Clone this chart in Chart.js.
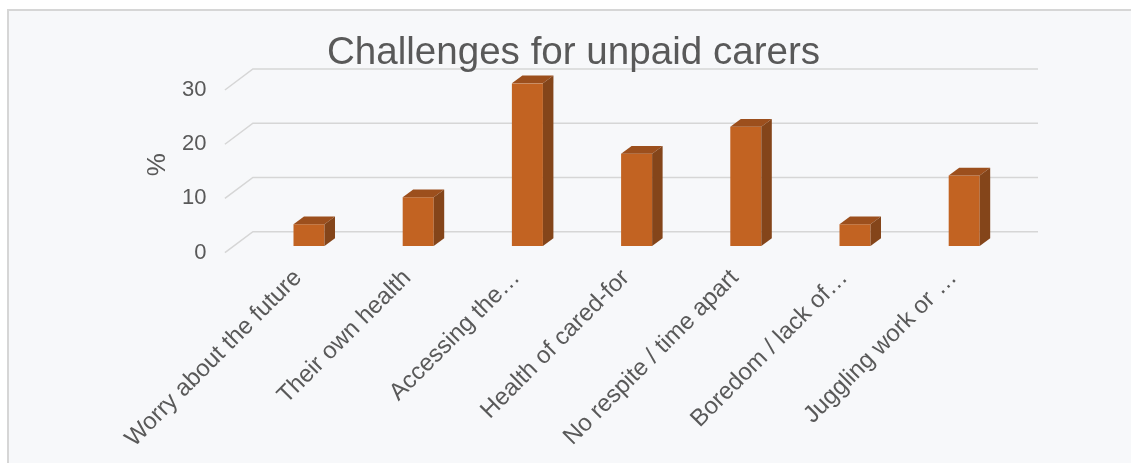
<!DOCTYPE html>
<html>
<head>
<meta charset="utf-8">
<title>Challenges for unpaid carers</title>
<script src="https://cdn.jsdelivr.net/npm/chart.js@4.4.1/dist/chart.umd.min.js"></script>
<style>
  html, body { margin: 0; padding: 0; background: #ffffff; }
  #wrap { width: 1131px; height: 463px; }
  canvas { display: block; }
</style>
</head>
<body>
<div id="wrap"><canvas id="chart" width="1131" height="463"></canvas></div>
<script>
// Survey data: share of unpaid carers naming each challenge (%)
const categories = [
  'Worry about the future',
  'Their own health',
  'Accessing the…',
  'Health of cared-for',
  'No respite / time apart',
  'Boredom / lack of…',
  'Juggling work or …'
];
const percentages = [4, 9, 30, 17, 22, 4, 13];
const yTickValues = [0, 10, 20, 30];
const chartTitle = 'Challenges for unpaid carers';
const yAxisTitle = '%';

const FONT = "'Liberation Sans', Arial, sans-serif";
const TEXT = '#595959';
const FRONT = '#c26322';
const TOP = '#9c4f1d';
const SIDE = '#84451a';
const GRID = '#d6d6d6';

// Oblique depth of the bars
const BAR_DX = 10.5, BAR_DY = 7.7;

// Panel background plus the back-wall / floor gridlines (drawn first, under everything)
const panelAndWall = {
  id: 'panelAndWall',
  beforeDraw(chart) {
    const { ctx, chartArea: a, scales: { y } } = chart;
    ctx.save();
    ctx.fillStyle = '#ffffff';
    ctx.fillRect(0, 0, chart.width, chart.height);
    ctx.fillStyle = '#f7f8fa';
    ctx.fillRect(8, 10, chart.width - 8, chart.height - 10);
    ctx.strokeStyle = '#d6d6d6';
    ctx.lineWidth = 2;
    ctx.beginPath();
    ctx.moveTo(8, chart.height);
    ctx.lineTo(8, 10);
    ctx.lineTo(chart.width, 10);
    ctx.stroke();

    ctx.strokeStyle = GRID;
    ctx.lineWidth = 1.5;
    yTickValues.forEach(v => {
      const p = y.getPixelForValue(v);
      ctx.beginPath();
      ctx.moveTo(a.left - 29.5, p + 6.7);
      ctx.lineTo(a.left - 1.5, p - 14.3);
      ctx.lineTo(a.right + 19.2, p - 14.3);
      ctx.stroke();
    });
    ctx.restore();
  }
};

// Top and side faces that give each bar its block look
const barFaces = {
  id: 'barFaces',
  afterDatasetsDraw(chart) {
    const ctx = chart.ctx;
    ctx.save();
    chart.getDatasetMeta(0).data.forEach(bar => {
      const { x, y, base, width } = bar.getProps(['x', 'y', 'base', 'width'], true);
      const l = x - width / 2, r = x + width / 2;
      ctx.fillStyle = TOP;
      ctx.beginPath();
      ctx.moveTo(l, y);
      ctx.lineTo(l + BAR_DX, y - BAR_DY);
      ctx.lineTo(r + BAR_DX, y - BAR_DY);
      ctx.lineTo(r, y);
      ctx.closePath();
      ctx.fill();
      ctx.fillStyle = SIDE;
      ctx.beginPath();
      ctx.moveTo(r, y);
      ctx.lineTo(r + BAR_DX, y - BAR_DY);
      ctx.lineTo(r + BAR_DX, base - BAR_DY);
      ctx.lineTo(r, base);
      ctx.closePath();
      ctx.fill();
    });
    ctx.restore();
  }
};

new Chart(document.getElementById('chart'), {
  type: 'bar',
  data: {
    labels: categories,
    datasets: [{
      label: yAxisTitle,
      data: percentages,
      backgroundColor: FRONT,
      borderWidth: 0,
      barPercentage: 0.284,
      categoryPercentage: 1
    }]
  },
  options: {
    responsive: false,
    animation: false,
    devicePixelRatio: 1,
    layout: { padding: { left: 128.2, right: 112.2, top: 0, bottom: 0 } },
    plugins: {
      legend: { display: false },
      tooltip: { enabled: false },
      title: {
        display: true,
        text: chartTitle,
        color: TEXT,
        font: { family: FONT, size: 38.6, weight: 'normal', lineHeight: 1.2 },
        padding: { top: 30.6, bottom: 6.4 }
      }
    },
    scales: {
      x: {
        grid: { display: false, drawTicks: false },
        border: { display: false },
        ticks: {
          color: TEXT,
          font: { family: FONT, size: 24 },
          minRotation: 45,
          maxRotation: 45,
          autoSkip: false,
          padding: 18,
          labelOffset: -11
        },
        afterFit(scale) { scale.height = 217; }
      },
      y: {
        min: 0,
        max: 30,
        afterBuildTicks(scale) { scale.ticks = yTickValues.map(v => ({ value: v })); },
        grid: { display: false, drawTicks: false },
        border: { display: false },
        ticks: {
          color: TEXT,
          font: { family: FONT, size: 22 },
          padding: 48,
          labelOffset: 6.5
        },
        title: {
          display: true,
          text: yAxisTitle,
          color: TEXT,
          font: { family: FONT, size: 26 },
          padding: { top: 14, bottom: 0 }
        },
        afterFit(scale) { scale.width = 126.2; }
      }
    }
  },
  plugins: [panelAndWall, barFaces]
});
</script>
</body>
</html>
